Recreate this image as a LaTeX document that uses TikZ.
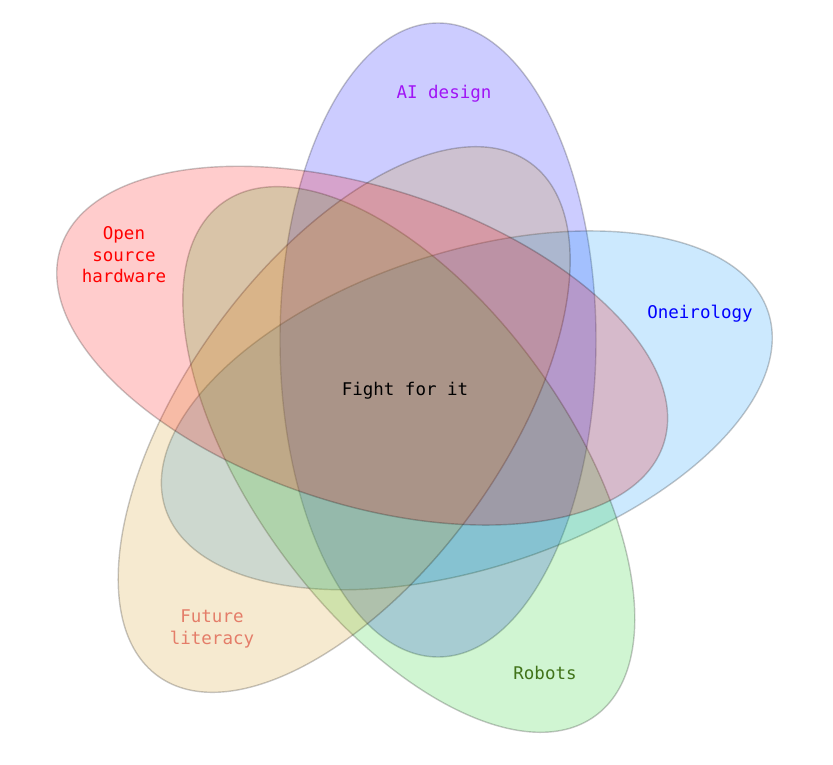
\documentclass[tikz,border=0pt]{standalone}
\usepackage{fontspec}
\setmonofont{DejaVu Sans Mono}
\definecolor{cAI}{RGB}{0,0,255}
\definecolor{cOni}{RGB}{0,145,250}
\definecolor{cRob}{RGB}{20,205,30}
\definecolor{cFut}{RGB}{210,150,20}
\definecolor{cOpen}{RGB}{255,0,0}
\definecolor{tAI}{RGB}{160,20,245}
\definecolor{tOpen}{RGB}{255,0,0}
\definecolor{tOni}{RGB}{0,0,255}
\definecolor{tFut}{RGB}{228,125,105}
\definecolor{tRob}{RGB}{65,115,25}
\begin{document}
\begin{tikzpicture}[x=1pt,y=1pt,
  ell/.style={fill=#1, fill opacity=0.2, draw=black, draw opacity=0.22, line width=1.4pt},
  lbl/.style={text=#1, font=\ttfamily\fontsize{17.5}{21.5}\selectfont, align=center, inner sep=0pt}]
\useasboundingbox (0,0) rectangle (833,764);
\begin{scope}[shift={(404,369)}]
  \path[ell=cAI, rotate=0] (34,55) ellipse [x radius=158pt, y radius=317pt];
  \path[ell=cOni, rotate=-72] (34,55) ellipse [x radius=158pt, y radius=317pt];
  \path[ell=cRob, rotate=-144] (34,55) ellipse [x radius=158pt, y radius=317pt];
  \path[ell=cFut, rotate=-216] (34,55) ellipse [x radius=158pt, y radius=317pt];
  \path[ell=cOpen, rotate=-288] (34,55) ellipse [x radius=158pt, y radius=317pt];
\end{scope}
\node[lbl=tAI] (ai) at (444,670) {AI design};
\node[lbl=tOpen] (open) at (124,509) {Open\\source\\hardware};
\node[lbl=tOni] (oni) at (700,450) {Oneirology};
\node[lbl=tFut] (fut) at (212,135) {Future\\literacy};
\node[lbl=tRob] (rob) at (545,91) {Robots};
\node[lbl=black] (mid) at (405,373) {Fight for it};
\end{tikzpicture}
\end{document}
